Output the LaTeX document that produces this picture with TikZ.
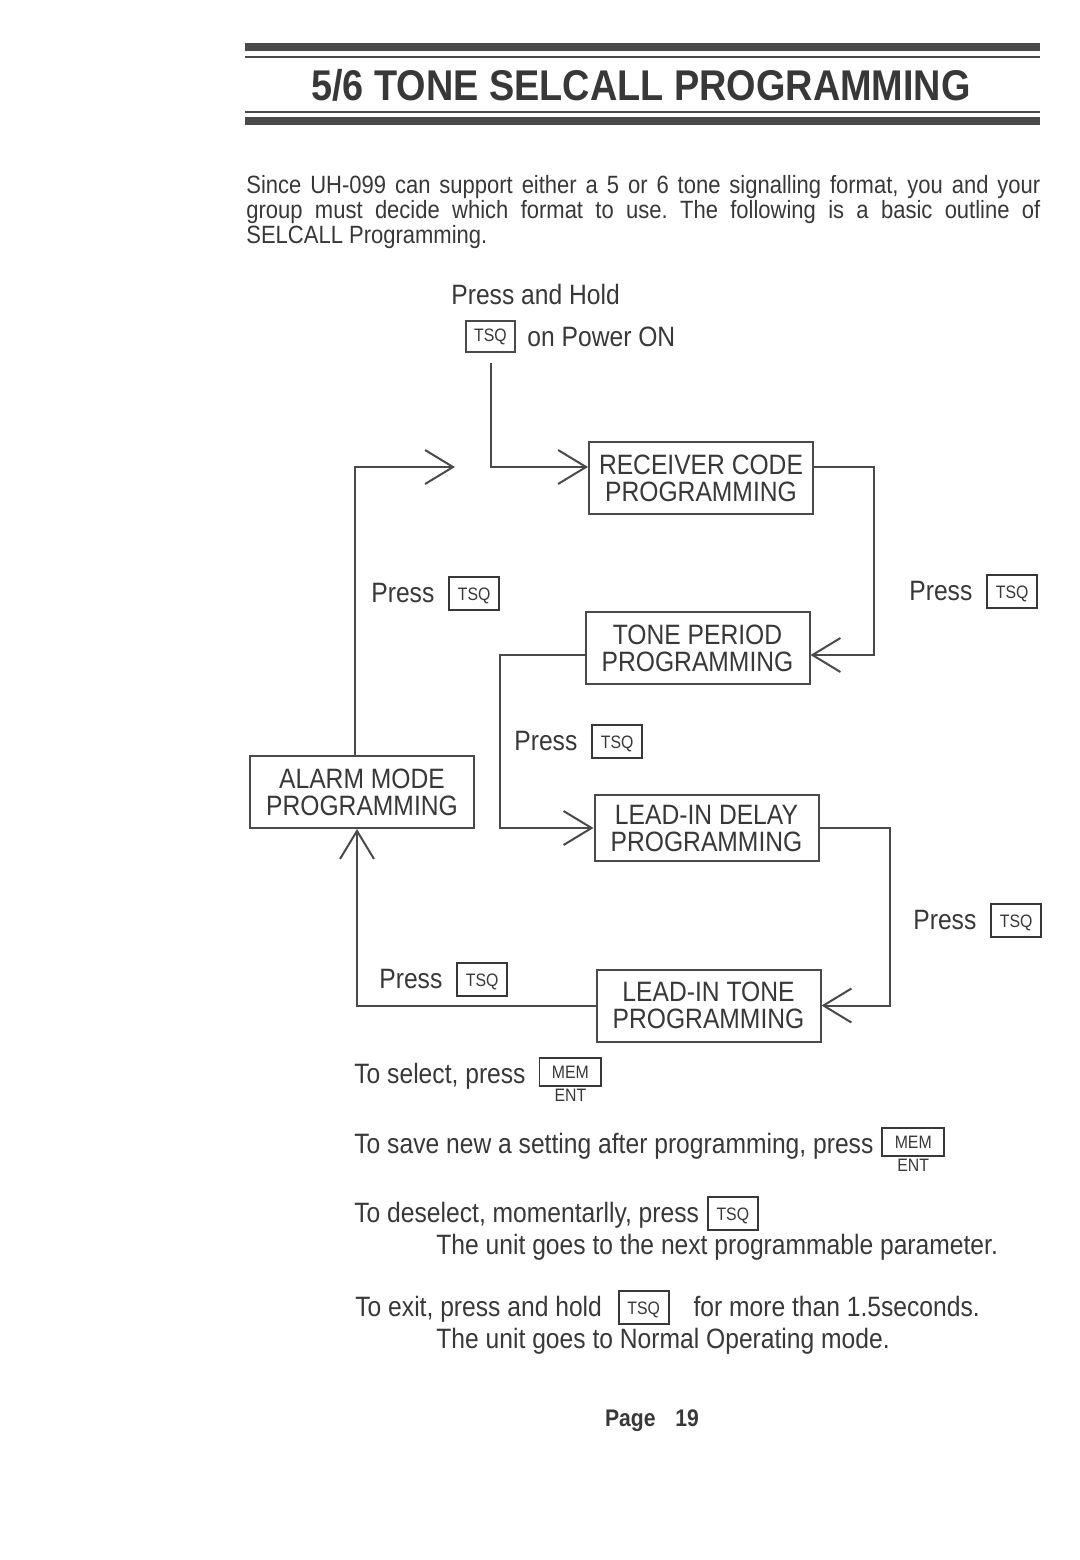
\documentclass[tikz,border=0pt]{standalone}
\usepackage{fontspec}
\setmainfont[FakeStretch=0.88]{Liberation Sans}
\usetikzlibrary{arrows.meta}

\definecolor{ink}{HTML}{383838}
\definecolor{rulegray}{HTML}{4A4A4A}

\newcommand{\keyfont}{\fontsize{9}{9}\selectfont}
\newcommand{\keytsq}{{\setlength{\fboxsep}{0pt}\setlength{\fboxrule}{0.9pt}%
  \framebox{\makebox[24pt]{\rule[-3.5pt]{0pt}{15.5pt}\raisebox{1pt}{\keyfont TSQ}}}}}
\newcommand{\keymem}{{\setlength{\fboxsep}{0pt}\setlength{\fboxrule}{0.9pt}%
  \framebox{\makebox[30pt]{\rule[-1pt]{0pt}{13pt}\raisebox{2.3pt}{\keyfont MEM}}}%
  \llap{\makebox[31.8pt]{\raisebox{-9.3pt}{\keyfont ENT}}}}}

\tikzset{
  txt/.style={anchor=base west, inner sep=0pt, text=ink, font=\fontsize{14}{14}\selectfont},
  prog/.style={draw=rulegray, line width=1pt, minimum width=112pt, minimum height=36pt,
    inner sep=2pt, align=center, text=ink, font=\fontsize{14}{13.5}\selectfont},
  key/.style={draw=rulegray, line width=0.9pt, minimum width=24.5pt, minimum height=15.5pt,
    inner sep=0pt, text=ink, font=\keyfont},
  flow/.style={draw=rulegray, line width=1pt, -{Straight Barb[length=14pt,width=17pt]}}
}

\begin{document}
\frenchspacing
\begin{tikzpicture}[x=0.5pt,y=-0.5pt]
\useasboundingbox[fill=white] (0,0) rectangle (1080,1560);

% heading
\fill[rulegray] (245,43) rectangle (1040,51);
\draw[rulegray, line width=1pt] (245,57) -- (1040,57);
\node[anchor=base, inner sep=0pt, text=ink, font=\fontsize{21.5}{21.5}\selectfont\bfseries] (title) at (641,100) {5/6 TONE SELCALL PROGRAMMING};
\draw[rulegray, line width=1pt] (245,112) -- (1040,112);
\fill[rulegray] (245,117) rectangle (1040,125);

\node[anchor=north west, inner sep=0pt, text width=397pt, align=justify, text=ink, font=\fontsize{12.5}{12.5}\selectfont] (intro) at (246,175)
  {Since UH-099 can support either a 5 or 6 tone signalling format, you and your\linebreak
   group must decide which format to use. The following is a basic outline of\linebreak
   SELCALL Programming.};

% flow chart
\node[txt] (hold) at (451,304) {Press and Hold};
\node[key] (tsq0) at (490.5,336.5) {TSQ};
\node[txt] (power) at (527,346) {on Power ON};

\node[prog] (rcp) at (701,478) {RECEIVER CODE\\PROGRAMMING};
\node[prog] (tp) at (697.5,648) {TONE PERIOD\\PROGRAMMING};
\node[prog, minimum height=33pt] (lid) at (706.5,828) {LEAD-IN DELAY\\PROGRAMMING};
\node[prog] (lit) at (708.5,1005.5) {LEAD-IN TONE\\PROGRAMMING};
\node[prog] (alarm) at (362,792) {ALARM MODE\\PROGRAMMING};
\coordinate (merge) at (455,467);

\node[txt] (pressa) at (371,602) {Press\hspace{7pt}\keytsq};
\node[txt] (pressb) at (909,600) {Press\hspace{7pt}\keytsq};
\node[txt] (pressc) at (514,750) {Press\hspace{7pt}\keytsq};
\node[txt] (pressd) at (913,929) {Press\hspace{7pt}\keytsq};
\node[txt] (presse) at (379,988) {Press\hspace{7pt}\keytsq};

\draw[flow] ([yshift=-5pt]tsq0.south) |- ([yshift=5.5pt]rcp.west);
\draw[flow] ([yshift=5.5pt]rcp.east) -- ++(30pt,0) |- ([yshift=-3.5pt]tp.east);
\draw[flow] ([yshift=-3.5pt]tp.west) -- ++(-42.5pt,0) |- (lid.west);
\draw[flow] (lid.east) -- ++(35pt,0) |- (lit.east);
\draw[flow] (lit.west) -| ([xshift=-2.5pt]alarm.south);
\draw[flow] ([xshift=-3.5pt]alarm.north) |- (merge);

% notes
\node[txt] (select) at (354,1083) {To select, press\hspace{6.5pt}\keymem};
\node[txt] (save) at (354,1153) {To save new a setting after programming, press\hspace{4pt}\keymem};
\node[txt] (deselect) at (354,1222) {To deselect, momentarlly, press\hspace{4pt}\keytsq};
\node[txt] (next) at (436,1254) {The unit goes to the next programmable parameter.};
\node[txt] (exit) at (355,1316) {To exit, press and hold\hspace{8pt}\keytsq\hspace{12pt}for more than 1.5seconds.};
\node[txt] (normal) at (436,1348) {The unit goes to Normal Operating mode.};

\node[anchor=base, inner sep=0pt, text=ink, font=\fontsize{12}{12}\selectfont\bfseries] (page) at (652,1426) {Page\hspace{10pt}19};
\end{tikzpicture}
\end{document}
